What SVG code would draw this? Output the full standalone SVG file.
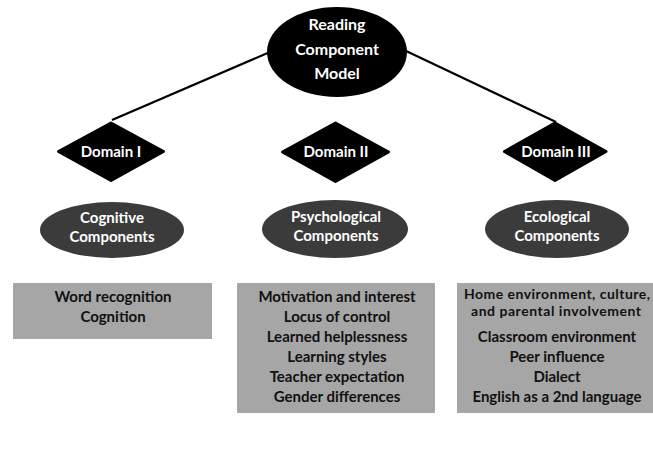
<svg xmlns="http://www.w3.org/2000/svg" width="653" height="449" viewBox="0 0 653 449">
  <style>
    text { font-family: Lato, "Liberation Sans", sans-serif; font-weight: bold; text-anchor: middle; }
    .w { fill: #ffffff; }
    .k { fill: #111111; font-size: 15px; }
    .s { font-size: 14px; }
    .top { font-size: 16px; }
    .dom { font-size: 15px; }
    .comp { font-size: 15px; }
    .dia { fill: #000000; stroke: #000000; stroke-width: 3; stroke-linejoin: round; }
    .ell { fill: #3b3b3b; }
    .box { fill: #a6a6a6; }
    .edge { stroke: #000000; stroke-width: 2.2; fill: none; }
  </style>
  <rect width="653" height="449" fill="#ffffff"/>
  <g id="connectors">
    <line class="edge" x1="270" y1="52" x2="112" y2="120"/>
    <line class="edge" x1="404" y1="50" x2="556" y2="122"/>
  </g>
  <g id="root">
    <ellipse cx="337" cy="52" rx="70" ry="45" fill="#000000"/>
    <text class="w top" x="337" y="30">Reading</text>
    <text class="w top" x="337" y="55">Component</text>
    <text class="w top" x="337" y="79">Model</text>
  </g>
  <g id="domain1">
    <polygon class="dia" points="111,123 163.5,151.5 111,180.5 58.5,151.5"/>
    <text class="w dom" x="111" y="157">Domain I</text>
  </g>
  <g id="domain2">
    <polygon class="dia" points="335.5,123 388.5,152 335.5,181.5 282.5,152"/>
    <text class="w dom" x="336" y="157">Domain II</text>
  </g>
  <g id="domain3">
    <polygon class="dia" points="555,123 606,151.5 555,180.5 504.5,151.5"/>
    <text class="w dom" x="556" y="157">Domain III</text>
  </g>
  <g id="cognitive">
    <ellipse class="ell" cx="112" cy="230" rx="72" ry="28"/>
    <text class="w comp" x="112" y="223">Cognitive</text>
    <text class="w comp" x="112" y="242">Components</text>
  </g>
  <g id="psychological">
    <ellipse class="ell" cx="335" cy="229" rx="73" ry="29"/>
    <text class="w comp" x="336" y="222">Psychological</text>
    <text class="w comp" x="336" y="241">Components</text>
  </g>
  <g id="ecological">
    <ellipse class="ell" cx="557" cy="229" rx="72" ry="29"/>
    <text class="w comp" x="557" y="222">Ecological</text>
    <text class="w comp" x="557" y="241">Components</text>
  </g>
  <g id="box1">
    <rect class="box" x="13" y="283" width="199" height="56"/>
    <text class="k" x="113" y="302">Word recognition</text>
    <text class="k" x="113" y="322">Cognition</text>
  </g>
  <g id="box2">
    <rect class="box" x="237" y="283" width="198" height="130"/>
    <text class="k" x="337" y="302">Motivation and interest</text>
    <text class="k" x="337" y="322">Locus of control</text>
    <text class="k" x="337" y="342">Learned helplessness</text>
    <text class="k" x="337" y="362">Learning styles</text>
    <text class="k" x="337" y="382">Teacher expectation</text>
    <text class="k" x="337" y="402">Gender differences</text>
  </g>
  <g id="box3">
    <rect class="box" x="457" y="283" width="196" height="130"/>
    <text class="k s" x="557" y="299" textLength="186" lengthAdjust="spacing">Home environment, culture,</text>
    <text class="k s" x="556" y="316" textLength="170" lengthAdjust="spacing">and parental involvement</text>
    <text class="k" x="557" y="342">Classroom environment</text>
    <text class="k" x="557" y="362">Peer influence</text>
    <text class="k" x="557" y="382">Dialect</text>
    <text class="k" x="557" y="402">English as a 2nd language</text>
  </g>
</svg>
